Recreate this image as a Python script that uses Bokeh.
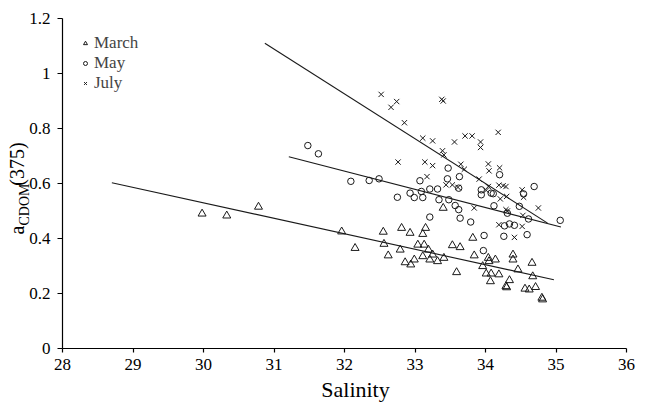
from bokeh.plotting import figure
from bokeh.models import Range1d, FixedTicker, Legend, LegendItem, LinearAxis
from bokeh.embed import file_html
from bokeh.resources import INLINE

FONT = "Liberation Serif"
NB = "\u00a0"

# ---- data ----
march_x = [29.98, 30.33, 30.78, 31.96, 32.15, 32.55, 32.56, 32.62, 32.81, 32.93,
           32.79, 32.86, 32.94, 32.99, 33.04, 33.13, 33.11, 33.15, 33.11, 33.19,
           33.25, 33.21, 33.32, 33.41, 33.53, 33.64, 33.59, 33.82, 33.84, 33.96,
           34.04, 34.05, 34.14, 34.01, 34.08, 34.19, 34.07, 34.29, 34.30, 34.34,
           34.39, 34.39, 34.46, 34.66, 34.67, 34.56, 34.62, 34.71, 34.80, 34.81,
           33.40]
march_y = [0.490, 0.483, 0.515, 0.425, 0.365, 0.424, 0.380, 0.338, 0.438, 0.420,
           0.359, 0.313, 0.305, 0.323, 0.377, 0.377, 0.416, 0.438, 0.335, 0.359,
           0.341, 0.323, 0.317, 0.329, 0.375, 0.368, 0.277, 0.402, 0.338, 0.299,
           0.329, 0.317, 0.323, 0.272, 0.272, 0.269, 0.244, 0.226, 0.222, 0.248,
           0.341, 0.323, 0.287, 0.311, 0.262, 0.217, 0.214, 0.223, 0.184, 0.178,
           0.511]

may_x = [31.48, 31.63, 32.09, 32.35, 32.49, 32.75, 32.93, 32.99, 33.07, 33.09,
         33.11, 33.21, 33.32, 33.34, 33.46, 33.47, 33.48, 33.57, 33.62, 33.62,
         33.63, 33.21, 33.64, 33.79, 33.94, 33.94, 34.08, 34.11, 34.12, 34.20,
         34.48, 34.54, 34.69, 34.31, 34.61, 35.06, 34.27, 34.34, 34.41, 34.26,
         34.59, 33.98, 33.97]
may_y = [0.738, 0.708, 0.608, 0.611, 0.617, 0.550, 0.565, 0.549, 0.610, 0.571,
         0.549, 0.580, 0.580, 0.541, 0.617, 0.656, 0.541, 0.520, 0.505, 0.583,
         0.625, 0.478, 0.474, 0.460, 0.577, 0.559, 0.565, 0.563, 0.519, 0.632,
         0.517, 0.562, 0.589, 0.492, 0.471, 0.466, 0.446, 0.453, 0.448, 0.408,
         0.414, 0.411, 0.356]

july_x = [32.52, 32.74, 32.66, 32.85, 33.38, 33.40, 33.11, 33.25, 33.56, 33.71,
          33.81, 33.93, 33.93, 34.18, 33.39, 33.41, 32.76, 33.14, 33.25, 33.65,
          33.70, 34.04, 34.05, 34.20, 33.91, 33.17, 34.04, 34.19, 34.29, 34.52,
          33.44, 33.53, 33.61, 34.01, 34.25, 34.30, 34.21, 33.84, 34.29, 34.31,
          34.53, 34.75, 34.19, 34.52, 34.41, 34.54]
july_y = [0.924, 0.898, 0.877, 0.821, 0.906, 0.900, 0.765, 0.755, 0.751, 0.773,
          0.773, 0.751, 0.731, 0.786, 0.719, 0.704, 0.678, 0.678, 0.665, 0.670,
          0.652, 0.671, 0.646, 0.657, 0.616, 0.625, 0.589, 0.594, 0.589, 0.577,
          0.595, 0.595, 0.586, 0.575, 0.592, 0.553, 0.544, 0.511, 0.505, 0.500,
          0.484, 0.511, 0.450, 0.444, 0.404, 0.550]

# regression lines (end points)
march_fit_x = [28.70, 34.97]
march_fit_y = [0.603, 0.250]
may_fit_x = [31.21, 35.07]
may_fit_y = [0.697, 0.442]
july_fit_x = [30.87, 34.88]
july_fit_y = [1.110, 0.456]

x_ticks = [28, 29, 30, 31, 32, 33, 34, 35, 36]
y_ticks = [0, 0.2, 0.4, 0.6, 0.8, 1, 1.2]
y_tick_labels = ["0", "0.2", "0.4", "0.6", "0.8", "1", "1.2"]

x_title = "Salinity"
y_title_main = ["a", "(375)"]
y_title_sub = "CDOM"

# ---- figure ----
p = figure(width=654, height=406, output_backend="svg", toolbar_location=None,
           x_range=Range1d(28, 36), y_range=Range1d(0, 1.2),
           min_border_left=62, min_border_right=28, min_border_top=18,
           min_border_bottom=58)
p.grid.visible = False
p.outline_line_color = None

for ax in (p.xaxis[0], p.yaxis[0]):
    ax.axis_line_color = "black"
    ax.axis_line_width = 1.2
    ax.major_tick_line_color = "black"
    ax.major_tick_line_width = 1.2
    ax.minor_tick_line_color = None
    ax.major_tick_in = 0
    ax.major_label_text_font = FONT
    ax.major_label_text_font_size = "17px"
    ax.major_label_text_color = "black"
    ax.axis_label_text_font = FONT
    ax.axis_label_text_font_style = "normal"
    ax.axis_label_text_color = "black"

p.xaxis.ticker = FixedTicker(ticks=x_ticks)
p.xaxis.major_tick_out = 4
p.xaxis.major_label_standoff = 6
p.xaxis.axis_label = NB * 4 + x_title
p.xaxis.axis_label_text_font_size = "22px"
p.xaxis.axis_label_standoff = 4

p.yaxis.ticker = FixedTicker(ticks=y_ticks)
p.yaxis.major_tick_out = 5
p.yaxis.major_label_standoff = 7
p.yaxis.major_label_overrides = {t: s for t, s in zip(y_ticks, y_tick_labels)}
# subscript part of the y title, shifted along the axis with trailing spaces
p.yaxis.axis_label = y_title_sub + NB * 12
p.yaxis.axis_label_text_font_size = "14px"
p.yaxis.axis_label_standoff = -6

# main part of the y title on an outer, tick-less axis
outer = LinearAxis(ticker=FixedTicker(ticks=[]), axis_line_color=None,
                   major_tick_line_color=None, minor_tick_line_color=None,
                   major_tick_out=0, major_tick_in=0, major_label_standoff=0,
                   axis_label=y_title_main[0] + NB * 8 + y_title_main[1] + NB * 2,
                   axis_label_text_font=FONT, axis_label_text_font_style="normal",
                   axis_label_text_font_size="20px", axis_label_text_color="black",
                   axis_label_standoff=-13)
p.add_layout(outer, "left")

mk = dict(fill_color=None, line_color="#1a1a1a", line_width=1)
r_mar = p.scatter(march_x, march_y, marker="triangle", size=8, **mk)
r_may = p.scatter(may_x, may_y, marker="circle", size=6.5, **mk)
r_jul = p.scatter(july_x, july_y, marker="x", size=7.5, **mk)

ln = dict(line_color="#1a1a1a", line_width=1.1)
p.line(march_fit_x, march_fit_y, **ln)
p.line(may_fit_x, may_fit_y, **ln)
p.line(july_fit_x, july_fit_y, **ln)

legend = Legend(items=[LegendItem(label="March", renderers=[r_mar]),
                       LegendItem(label="May", renderers=[r_may]),
                       LegendItem(label="July", renderers=[r_jul])],
                location=(18, 255), glyph_width=10, glyph_height=20,
                label_height=20, spacing=0, padding=0, margin=0,
                label_standoff=4, label_text_font=FONT,
                label_text_font_size="17px", border_line_color=None,
                background_fill_color=None)
p.add_layout(legend)

open("out.html", "w").write(file_html(p, INLINE))
